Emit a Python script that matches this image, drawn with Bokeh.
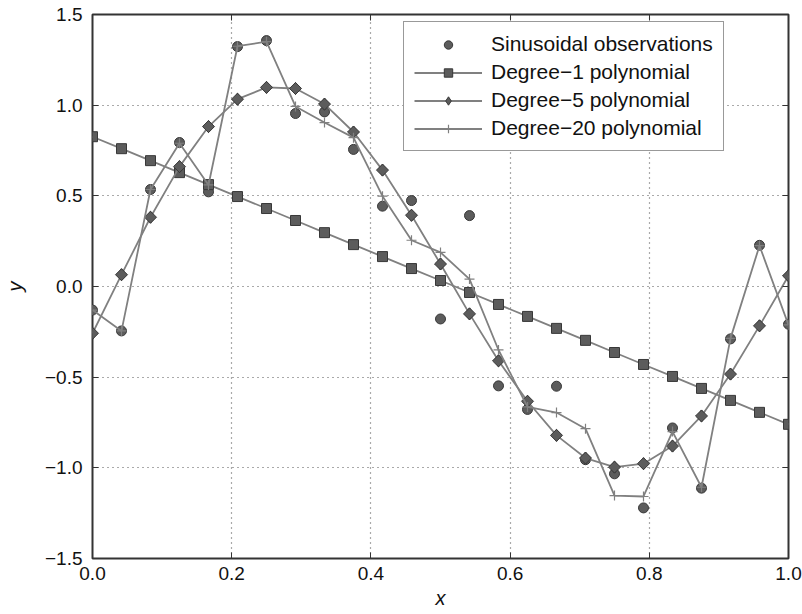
import math
from bokeh.plotting import figure
from bokeh.models import (ColumnDataSource, Legend, LegendItem, LinearAxis,
                          FixedTicker, Range1d)
from bokeh.embed import file_html
from bokeh.resources import INLINE

# ---- data ----
x_vals = [i / 24 for i in range(25)]

observations = [-0.13, -0.245, 0.535, 0.794, 0.522, 1.323, 1.356, 0.954, 0.963,
                0.756, 0.443, 0.474, -0.179, 0.391, -0.548, -0.678, -0.550,
                -0.955, -1.033, -1.221, -0.780, -1.112, -0.289, 0.227, -0.208]

degree1 = [0.826, 0.760, 0.694, 0.628, 0.562, 0.496, 0.430, 0.364, 0.297,
           0.231, 0.165, 0.099, 0.033, -0.033, -0.099, -0.165, -0.231,
           -0.297, -0.364, -0.430, -0.496, -0.562, -0.628, -0.694, -0.760]

degree5 = [-0.258, 0.065, 0.382, 0.661, 0.882, 1.033, 1.098, 1.092, 1.006,
           0.852, 0.642, 0.393, 0.124, -0.151, -0.410, -0.633, -0.821,
           -0.946, -0.996, -0.977, -0.880, -0.714, -0.483, -0.217, 0.059]

degree20 = [-0.13, -0.245, 0.535, 0.79, 0.56, 1.325, 1.35, 0.993, 0.904,
            0.821, 0.498, 0.255, 0.188, 0.041, -0.350, -0.664, -0.695,
            -0.784, -1.153, -1.158, -0.80, -1.107, -0.286, 0.225, -0.212]

x_ticks = [0.0, 0.2, 0.4, 0.6, 0.8, 1.0]
y_ticks = [-1.5, -1.0, -0.5, 0.0, 0.5, 1.0, 1.5]
x_tick_labels = ["0.0", "0.2", "0.4", "0.6", "0.8", "1.0"]
y_tick_labels = ["\u22121.5", "\u22121.0", "\u22120.5", "0.0", "0.5", "1.0", "1.5"]

labels = ["Sinusoidal observations", "Degree\u22121 polynomial",
          "Degree\u22125 polynomial", "Degree\u221220 polynomial"]

# ---- styling ----
FONT = "Liberation Sans"
MARK_FILL = "#5c5c5c"
MARK_EDGE = "#383838"
LINE_COL = "#808080"

src = ColumnDataSource(dict(x=x_vals, obs=observations, d1=degree1,
                            d5=degree5, d20=degree20))

p = figure(width=802, height=614, output_backend="svg", toolbar_location=None,
           x_range=Range1d(0, 1), y_range=Range1d(-1.5, 1.5),
           min_border_left=92, min_border_right=14, min_border_top=14,
           min_border_bottom=56)

p.background_fill_color = "white"
p.border_fill_color = "white"
p.outline_line_color = "#333333"
p.outline_line_width = 2

# main axes
for ax, ticks, labs in ((p.xaxis[0], x_ticks, x_tick_labels),
                        (p.yaxis[0], y_ticks, y_tick_labels)):
    ax.ticker = FixedTicker(ticks=ticks)
    ax.major_label_overrides = {t: l for t, l in zip(ticks, labs)}
    ax.major_tick_in = 6
    ax.major_tick_out = 0
    ax.minor_tick_line_color = None
    ax.major_tick_line_color = "#333333"
    ax.axis_line_color = None
    ax.major_label_text_font = FONT
    ax.major_label_text_font_size = "19px"
    ax.major_label_text_color = "#111111"
    ax.axis_label_text_font = FONT
    ax.axis_label_text_font_size = "20px"
    ax.axis_label_text_font_style = "italic"
    ax.axis_label_text_color = "#111111"

p.xaxis.axis_label = "x"
p.yaxis.axis_label = "y"
p.xaxis.major_label_standoff = 8
p.yaxis.major_label_standoff = 10
p.xaxis.axis_label_standoff = 4
p.yaxis.axis_label_standoff = 16

# mirrored tick marks on top and right
for loc, ticks in (("above", x_ticks), ("right", y_ticks)):
    ax2 = LinearAxis(ticker=FixedTicker(ticks=ticks))
    ax2.major_tick_in = 6
    ax2.major_tick_out = 0
    ax2.minor_tick_line_color = None
    ax2.major_tick_line_color = "#333333"
    ax2.axis_line_color = None
    ax2.major_label_overrides = {t: "" for t in ticks}
    ax2.major_label_standoff = 0
    p.add_layout(ax2, loc)

# grid
p.xgrid.ticker = FixedTicker(ticks=x_ticks)
p.ygrid.ticker = FixedTicker(ticks=y_ticks)
for g in (p.xgrid[0], p.ygrid[0]):
    g.grid_line_color = "#555555"
    g.grid_line_dash = "1 4"
    g.grid_line_width = 1.2

# series
r_obs = p.scatter("x", "obs", source=src, marker="circle", size=10,
                  fill_color=MARK_FILL, line_color=MARK_EDGE, line_width=1)

l1 = p.line("x", "d1", source=src, line_color=LINE_COL, line_width=1.8)
m1 = p.scatter("x", "d1", source=src, marker="square", size=10,
               fill_color=MARK_FILL, line_color=MARK_EDGE, line_width=1)

l5 = p.line("x", "d5", source=src, line_color=LINE_COL, line_width=1.8)
# diamond glyph used for the legend key (hidden beneath the rotated squares)
m5_key = p.scatter("x", "d5", source=src, marker="diamond", size=12,
                   fill_color=MARK_FILL, line_color=MARK_EDGE, line_width=1)
m5 = p.scatter("x", "d5", source=src, marker="square", size=8.5, angle=math.pi / 4,
               fill_color=MARK_FILL, line_color=MARK_EDGE, line_width=1)

l20 = p.line("x", "d20", source=src, line_color=LINE_COL, line_width=1.8)
m20 = p.scatter("x", "d20", source=src, marker="cross", size=10,
                line_color=LINE_COL, line_width=1.2)

legend = Legend(items=[
    LegendItem(label=labels[0], renderers=[r_obs]),
    LegendItem(label=labels[1], renderers=[l1, m1]),
    LegendItem(label=labels[2], renderers=[l5, m5_key]),
    LegendItem(label=labels[3], renderers=[l20, m20]),
], location=(311, 407))
legend.label_text_font = FONT
legend.label_text_font_size = "21px"
legend.label_text_color = "#111111"
legend.glyph_width = 68
legend.glyph_height = 21
legend.label_height = 21
legend.spacing = 4
legend.padding = 10
legend.margin = 0
legend.label_standoff = 9
legend.border_line_color = "#333333"
legend.border_line_width = 1.5
legend.background_fill_color = "white"
legend.background_fill_alpha = 1.0
p.add_layout(legend, "center")

open("out.html", "w").write(file_html(p, INLINE))
